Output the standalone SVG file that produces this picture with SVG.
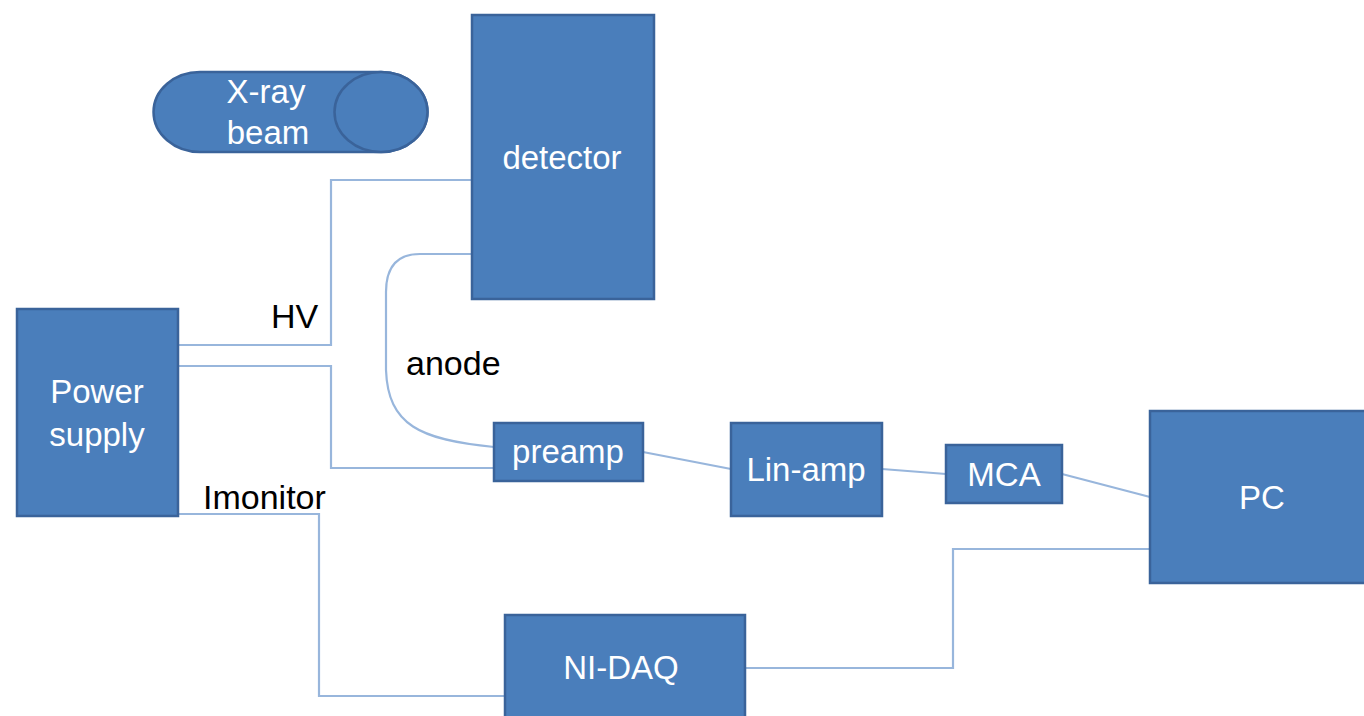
<svg xmlns="http://www.w3.org/2000/svg" width="1364" height="716" viewBox="0 0 1364 716">
<style>
.node{fill:#4a7ebb;stroke:#3a639a;stroke-width:2.5}
.nt{font-family:"Liberation Sans",Arial,sans-serif;font-size:33px;fill:#ffffff;text-anchor:middle}
.lbl{font-family:"Liberation Sans",Arial,sans-serif;font-size:34px;fill:#000000}
.wire{fill:none;stroke:#98b6dc;stroke-width:2.2}
</style>
<rect width="1364" height="716" fill="#ffffff"/>
<g id="connectors">
<path class="wire" d="M178,345 L331,345 L331,180 L472,180"/>
<path class="wire" d="M178,366 L331,366 L331,468 L494,468"/>
<path class="wire" d="M472,254 L420,254 Q386,254 386,292 L386,370 C388,425 420,440 494,447"/>
<path class="wire" d="M178,514 L319,514 L319,696 L505,696"/>
<path class="wire" d="M745,668 L953,668 L953,549 L1150,549"/>
<path class="wire" d="M643,452 L731,469"/>
<path class="wire" d="M882,469 L946,474"/>
<path class="wire" d="M1062,474 L1150,497"/>
</g>
<g id="xray">
<path class="node" d="M200,72 L381,72 A46.5,40 0 0 1 381,152 L200,152 A46.5,40 0 0 1 200,72 Z"/>
<ellipse class="node" cx="381" cy="112" rx="46.5" ry="40"/>
<text class="nt" x="266" y="103">X-ray</text>
<text class="nt" x="268" y="144">beam</text>
</g>
<g id="detector">
<rect class="node" x="472" y="15" width="182" height="284"/>
<text class="nt" x="562" y="169">detector</text>
</g>
<g id="power">
<rect class="node" x="17" y="309" width="161" height="207"/>
<text class="nt" x="97" y="403">Power</text>
<text class="nt" x="97" y="446">supply</text>
</g>
<g id="preamp">
<rect class="node" x="494" y="423" width="149" height="58"/>
<text class="nt" x="568" y="463">preamp</text>
</g>
<g id="linamp">
<rect class="node" x="731" y="423" width="151" height="93"/>
<text class="nt" x="806" y="481">Lin-amp</text>
</g>
<g id="mca">
<rect class="node" x="946" y="445" width="116" height="58"/>
<text class="nt" x="1004" y="486">MCA</text>
</g>
<g id="pc">
<rect class="node" x="1150" y="411" width="220" height="172"/>
<text class="nt" x="1262" y="509">PC</text>
</g>
<g id="nidaq">
<rect class="node" x="505" y="615" width="240" height="110"/>
<text class="nt" x="621" y="679">NI-DAQ</text>
</g>
<g id="labels">
<text class="lbl" x="271" y="328">HV</text>
<text class="lbl" x="406" y="375">anode</text>
<text class="lbl" x="203" y="509">Imonitor</text>
</g>
</svg>
